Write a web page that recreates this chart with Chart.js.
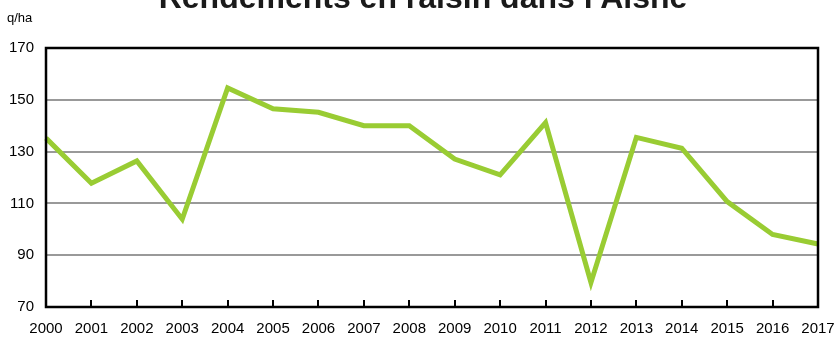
<!DOCTYPE html>
<html lang="fr">
<head>
<meta charset="utf-8">
<title>Rendements en raisin dans l'Aisne</title>
<script src="https://cdn.jsdelivr.net/npm/chart.js@4.4.1/dist/chart.umd.min.js"></script>
<style>
  html, body { margin: 0; padding: 0; background: #ffffff; }
  #wrap { width: 838px; height: 339px; position: relative; }
</style>
</head>
<body>
<div id="wrap"><canvas id="c" width="838" height="339"></canvas></div>
<script>
// Rendement annuel en raisin (q/ha)
const years = ['2000','2001','2002','2003','2004','2005','2006','2007','2008',
               '2009','2010','2011','2012','2013','2014','2015','2016','2017'];
const yields = [135.2, 117.8, 126.4, 103.9, 154.6, 146.5, 145.2, 140.0, 140.0,
                127.1, 121.0, 141.2, 79.5, 135.5, 131.3, 110.7, 98.0, 94.3];
const yTicks = [70, 90, 110, 130, 150, 170];

const titleText = "Rendements en raisin dans l'Aisne";
const unitText = 'q/ha';
const FONT = '"Liberation Sans", Arial, sans-serif';

// Cadre noir, petites graduations de l'axe X vers l'intérieur, titre et unité
const decor = {
  id: 'decor',
  afterDatasetsDraw(chart) {
    const { ctx, chartArea: a, scales } = chart;
    ctx.save();
    ctx.strokeStyle = '#000000';
    ctx.lineWidth = 2;
    ctx.beginPath();
    years.forEach((yr, i) => {
      if (i === 0 || i === years.length - 1) return;
      const x = Math.round(scales.x.getPixelForValue(i));
      ctx.moveTo(x, a.bottom);
      ctx.lineTo(x, a.bottom - 7);
    });
    ctx.stroke();
    ctx.lineWidth = 2.5;
    ctx.strokeRect(a.left, a.top, a.right - a.left, a.bottom - a.top);
    ctx.restore();
  },
  afterDraw(chart) {
    const { ctx } = chart;
    ctx.save();
    ctx.fillStyle = '#1a1a1a';
    ctx.font = 'bold 32px ' + FONT;
    ctx.textAlign = 'center';
    ctx.textBaseline = 'alphabetic';
    ctx.fillText(titleText, 423, 8);
    ctx.fillStyle = '#000000';
    ctx.font = '13px ' + FONT;
    ctx.textAlign = 'left';
    ctx.fillText(unitText, 7, 22);
    ctx.restore();
  }
};

new Chart(document.getElementById('c'), {
  type: 'line',
  data: {
    labels: years,
    datasets: [{
      data: yields,
      borderColor: '#99cc33',
      borderWidth: 5,
      tension: 0,
      pointRadius: 0,
      pointHoverRadius: 0,
      fill: false,
      borderJoinStyle: 'miter',
      clip: false
    }]
  },
  options: {
    responsive: false,
    animation: false,
    events: [],
    layout: { padding: { top: 48, right: 20, left: 0, bottom: 0 } },
    plugins: {
      legend: { display: false },
      title: { display: false },
      tooltip: { enabled: false }
    },
    scales: {
      x: {
        offset: false,
        grid: { display: false, drawTicks: false },
        border: { display: false },
        ticks: {
          color: '#000000',
          font: { family: FONT, size: 15 },
          padding: 13,
          maxRotation: 0,
          autoSkip: false
        },
        afterFit(scale) {
          scale.height = 32;
          scale.paddingLeft = 0;
          scale.paddingRight = 0;
        }
      },
      y: {
        min: 70,
        max: 170,
        grid: { color: '#999999', lineWidth: 2, drawTicks: false },
        border: { display: false },
        afterBuildTicks(scale) { scale.ticks = yTicks.map(v => ({ value: v })); },
        ticks: {
          color: '#000000',
          font: { family: FONT, size: 15 },
          padding: 12
        },
        afterFit(scale) { scale.width = 46; }
      }
    }
  },
  plugins: [decor]
});
</script>
</body>
</html>
